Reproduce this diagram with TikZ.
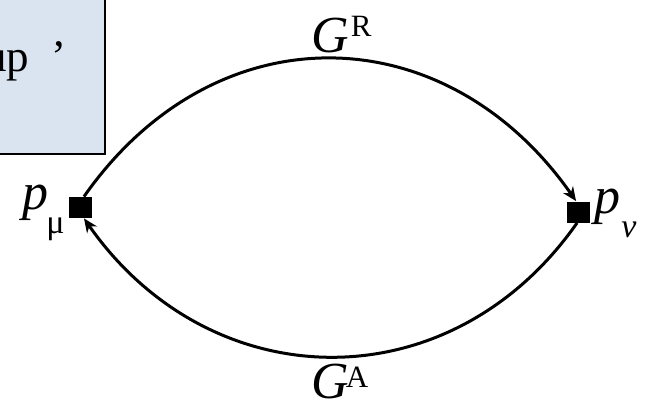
\documentclass[tikz,border=0pt]{standalone}
\usepackage{fontspec}
\setmainfont{Liberation Serif}
\usetikzlibrary{arrows.meta}
\definecolor{boxfill}{HTML}{DAE3F0}
\begin{document}
\begin{tikzpicture}[x=0.5pt,y=0.5pt,
  vertex/.style={fill=black, minimum width=11.5pt, minimum height=10.5pt, inner sep=0pt},
  prop/.style={line width=1.5pt, -{Stealth[length=7pt,width=6pt]}},
  lbl/.style={inner sep=0pt, font=\fontsize{26}{30}\selectfont},
  boxlbl/.style={inner sep=0pt, font=\fontsize{22.5}{26}\selectfont}]
\useasboundingbox (0,0) rectangle (651,407);
\clip (0,0) rectangle (651,407);
\node[draw, line width=1pt, fill=boxfill, anchor=south east, minimum width=58pt, minimum height=84pt, inner sep=0pt] (box) at (106,252) {};
\node[boxlbl, anchor=base west] (boxtext) at (-16,335) {up\hspace{11pt}’};
\node[vertex] (pmu) at (80,199.5) {};
\node[vertex] (pnu) at (578,195) {};
\node[lbl, anchor=base west] (lmu) at (22,198) {\textit{p}\kern-1pt\raisebox{-12pt}{\fontsize{17}{17}\selectfont μ}};
\node[lbl, anchor=base west] (lnu) at (594,194) {\textit{p}\kern0.5pt\raisebox{-12pt}{\fontsize{17}{17}\selectfont\itshape ν}};
\node[lbl, anchor=base west] (gr) at (311,354) {\textit{G}\kern1pt\raisebox{8pt}{\fontsize{15.5}{15}\selectfont R}};
\node[lbl, anchor=base west] (ga) at (311,9) {\textit{G}\kern-1.5pt\raisebox{5.5pt}{\fontsize{15.5}{15}\selectfont A}};
\draw[prop] (pmu.70) .. controls +(55:228) and +(125:228) .. (pnu.100);
\draw[prop] (pnu.265) .. controls +(235:221) and +(-55:221) .. (pmu.-70);
\end{tikzpicture}
\end{document}
